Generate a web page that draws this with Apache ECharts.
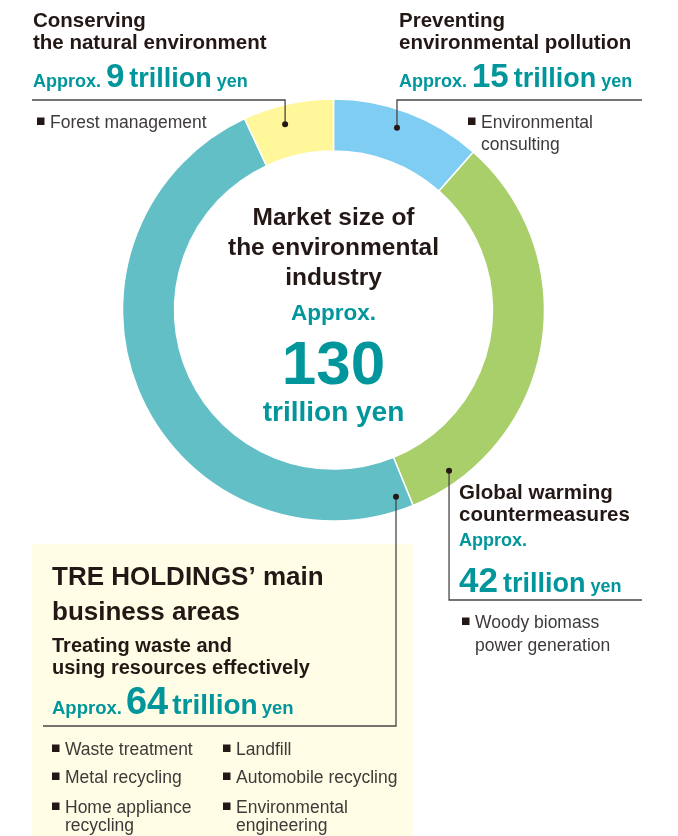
<!DOCTYPE html>
<html><head><meta charset="utf-8">
<script src="https://cdn.jsdelivr.net/npm/echarts@6/dist/echarts.min.js"></script>
<style>html,body{margin:0;padding:0;background:#fff}#c{width:678px;height:836px}</style>
</head><body><div id="c"></div>
<script>
// ---- data ----
const categories = ['Preventing environmental pollution', 'Global warming countermeasures', 'Treating waste and using resources effectively', 'Conserving the natural environment'];
const values = [15, 42, 64, 9];
const totalValue = 130;
const headingLines = [
  ['Preventing', 'environmental pollution'],
  ['Global warming', 'countermeasures'],
  ['Treating waste and', 'using resources effectively'],
  ['Conserving', 'the natural environment']
];
const subItems = [
  [['Environmental', 'consulting']],
  [['Woody biomass', 'power generation']],
  [['Waste treatment'], ['Landfill'], ['Metal recycling'], ['Automobile recycling'], ['Home appliance', 'recycling'], ['Environmental', 'engineering']],
  [['Forest management']]
];
const centerTitle = ['Market size of', 'the environmental', 'industry'];
const boxTitle = ['TRE HOLDINGS\u2019 main', 'business areas'];
const sliceColors = ['#7fcdf3', '#a9cf6b', '#62bfc6', '#fff799'];

// ---- helpers ----
const FAM = '"Liberation Sans", Arial, Helvetica, sans-serif';
const DARK = '#231815', GRAY = '#3e3a39', TEAL = '#00969b', LINE = '#4a4646';
const cv = document.createElement('canvas').getContext('2d');
function setFont(fs, w) { cv.font = (w || 'normal') + ' ' + fs + 'px ' + FAM; }
function width(t, fs, w) { setFont(fs, w); return cv.measureText(t).width; }
function midOffset(fs, w) {
  setFont(fs, w); cv.textBaseline = 'alphabetic';
  const a = cv.measureText('Hg').fontBoundingBoxAscent;
  cv.textBaseline = 'middle';
  const b = cv.measureText('Hg').fontBoundingBoxAscent;
  cv.textBaseline = 'alphabetic';
  return a - b;
}
const G = [];
function txt(t, x, bl, fs, w, c, align) {
  G.push({ type: 'text', silent: true, z: 10, style: { text: t, x: x, y: bl - midOffset(fs, w), fontSize: fs, fontWeight: w || 'normal', fontFamily: FAM, fill: c, align: align || 'left', verticalAlign: 'middle' } });
  return width(t, fs, w);
}
function amount(x, bl, v, s) {
  const parts = [['Approx.', s.ap], [String(v), s.num], ['trillion', s.tr], ['yen', s.ap]];
  let cx = x;
  parts.forEach(p => { cx += txt(p[0], cx, bl, p[1], 'bold', TEAL) + s.gap; });
}
function bullet(x, bl, lines, fs, lh) {
  G.push({ type: 'rect', silent: true, z: 10, shape: { x: x, y: bl - 10.5, width: 7.5, height: 7.5 }, style: { fill: DARK } });
  lines.forEach((l, i) => txt(l, x + 13, bl + i * lh, fs, 'normal', GRAY));
}
function heading(x, bl, lines, fs, lh) { lines.forEach((l, i) => txt(l, x, bl + i * lh, fs, 'bold', DARK)); }

// ---- pie geometry ----
const CX = 333.5, CY = 310, R0 = 159, R1 = 211;
function polar(r, deg) { const a = deg * Math.PI / 180; return [CX + r * Math.sin(a), CY - r * Math.cos(a)]; }

// background box
G.push({ type: 'rect', silent: true, z: 1, shape: { x: 32, y: 544, width: 381, height: 300 }, style: { fill: '#fffde6' } });

// leader lines + dots
const dots = [polar(193, 19.2), polar(198, 144.3), polar(197, 161.5), polar(192, 345.4)];
const leaders = [
  [[dots[0][0], dots[0][1]], [dots[0][0], 100], [642, 100]],
  [[dots[1][0], dots[1][1]], [dots[1][0], 600], [642, 600]],
  [[dots[2][0], dots[2][1]], [dots[2][0], 726], [43, 726]],
  [[dots[3][0], dots[3][1]], [dots[3][0], 100], [32, 100]]
];
leaders.forEach(pts => G.push({ type: 'polyline', silent: true, z: 8, shape: { points: pts }, style: { stroke: LINE, lineWidth: 1.3, fill: null } }));
dots.forEach(d => G.push({ type: 'circle', silent: true, z: 9, shape: { cx: d[0], cy: d[1], r: 3 }, style: { fill: DARK } }));

// top-left: conserving
heading(33, 27, headingLines[3], 20.5, 21.5);
amount(33, 87, values[3], { ap: 18, num: 33, tr: 27, gap: 5 });
bullet(37, 128, subItems[3][0], 17.5, 22);

// top-right: preventing
heading(399, 27, headingLines[0], 20.5, 21.5);
amount(399, 87, values[0], { ap: 18, num: 33, tr: 27, gap: 5 });
bullet(468, 128, subItems[0][0], 17.5, 22);

// right: global warming
heading(459, 499, headingLines[1], 20.5, 22);
txt('Approx.', 459, 546, 18, 'bold', TEAL);
(function () {
  let cx = 459;
  cx += txt(String(values[1]), cx, 592, 35, 'bold', TEAL) + 5;
  cx += txt('trillion', cx, 592, 27, 'bold', TEAL) + 5;
  txt('yen', cx, 592, 18, 'bold', TEAL);
})();
bullet(462, 628, subItems[1][0], 17.5, 23);

// box: waste
heading(52, 585, boxTitle, 26, 35);
heading(52, 652, headingLines[2], 20, 22);
amount(52, 714, values[2], { ap: 18.5, num: 38, tr: 28, gap: 4 });
const colX = [52, 223], rowBL = [755, 783, 813];
subItems[2].forEach((lines, i) => bullet(colX[i % 2], rowBL[Math.floor(i / 2)], lines, 17.5, 18));

// center
heading(0, 0, [], 0, 0);
centerTitle.forEach((l, i) => txt(l, CX, 225 + i * 30, 24.5, 'bold', DARK, 'center'));
txt('Approx.', CX, 320, 22.5, 'bold', TEAL, 'center');
txt(String(totalValue), CX, 384, 62, 'bold', TEAL, 'center');
txt('trillion yen', CX, 421, 28, 'bold', TEAL, 'center');

const chart = echarts.init(document.getElementById('c'), null, { renderer: 'canvas' });
chart.setOption({
  animation: false,
  backgroundColor: '#ffffff',
  series: [{
    type: 'pie',
    center: [CX, CY],
    radius: [R0, R1],
    startAngle: 90,
    clockwise: true,
    silent: true,
    label: { show: false },
    labelLine: { show: false },
    emphasis: { disabled: true },
    itemStyle: { borderColor: '#ffffff', borderWidth: 1.5 },
    data: categories.map((c, i) => ({ name: c, value: values[i], itemStyle: { color: sliceColors[i] } }))
  }],
  graphic: { elements: G }
});
</script></body></html>
